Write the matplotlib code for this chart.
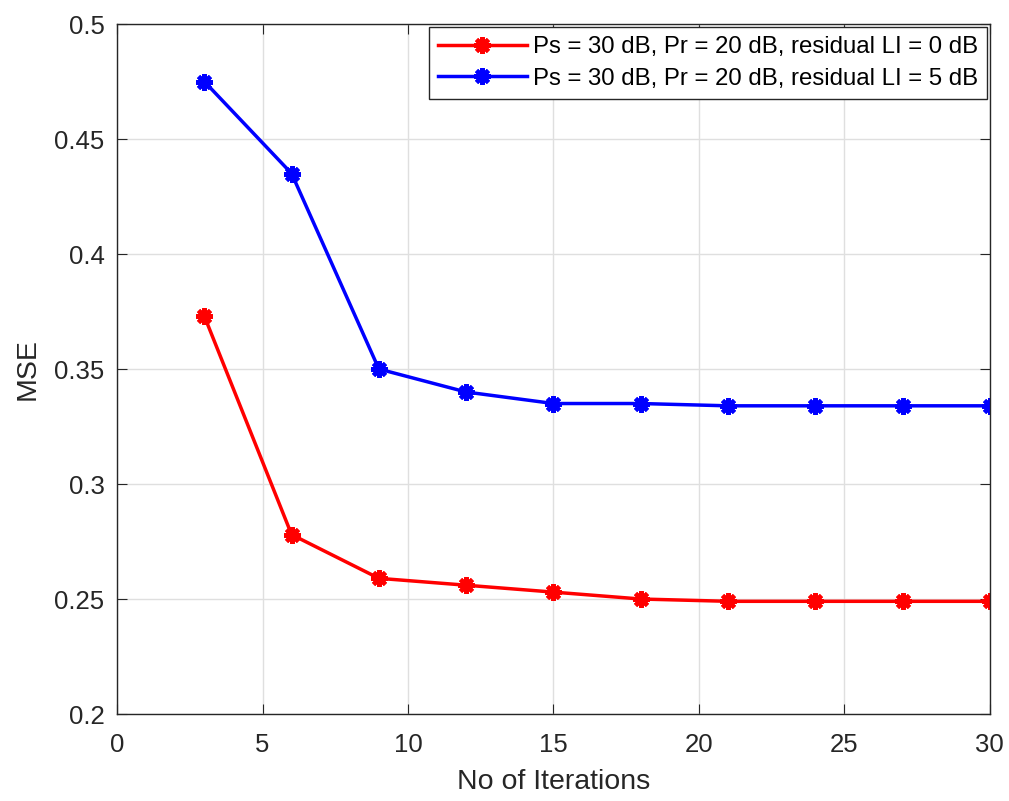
import matplotlib
matplotlib.use("Agg")
import matplotlib.pyplot as plt

plt.rcParams["font.family"] = ["Liberation Sans", "DejaVu Sans"]

iterations = [3, 6, 9, 12, 15, 18, 21, 24, 27, 30]
mse_li0 = [0.373, 0.278, 0.259, 0.256, 0.253, 0.250, 0.249, 0.249, 0.249, 0.249]
mse_li5 = [0.475, 0.435, 0.350, 0.340, 0.335, 0.335, 0.334, 0.334, 0.334, 0.334]
labels = ["Ps = 30 dB, Pr = 20 dB, residual LI = 0 dB",
          "Ps = 30 dB, Pr = 20 dB, residual LI = 5 dB"]

fig = plt.figure(figsize=(10.09, 8.01), dpi=100)
ax = fig.add_axes([0.116, 0.1086, 0.865, 0.8614])

asterisk = (8, 2, 0)
ax.plot(iterations, mse_li0, color="red", linewidth=2.5, marker=asterisk,
        markersize=12, markeredgewidth=3, label=labels[0])
ax.plot(iterations, mse_li5, color="blue", linewidth=2.5, marker=asterisk,
        markersize=12, markeredgewidth=3, label=labels[1])

ax.set_xlim(0, 30)
ax.set_ylim(0.2, 0.5)
ax.set_xticks(range(0, 31, 5))
ax.set_yticks([0.2, 0.25, 0.3, 0.35, 0.4, 0.45, 0.5])
ax.set_yticklabels(["0.2", "0.25", "0.3", "0.35", "0.4", "0.45", "0.5"])
ax.grid(True, color="#dfdfdf", linewidth=1)
ax.set_axisbelow(True)
ax.tick_params(direction="in", labelsize=18.5, colors="#262626", length=7, top=True, right=True)
ax.tick_params(axis="x", pad=13.5)
ax.tick_params(axis="y", pad=9)
for s in ax.spines.values():
    s.set_color("#262626")
    s.set_linewidth(1)

ax.set_xlabel("No of Iterations", fontsize=20.5, color="#262626", labelpad=9)
ax.set_ylabel("MSE", fontsize=20.5, color="#262626", labelpad=10)

leg = ax.legend(loc="upper right", fontsize=17.3, fancybox=False, framealpha=1,
                edgecolor="#262626", handlelength=3.7, borderaxespad=0.12,
                borderpad=0.38, labelspacing=0.4, handletextpad=0.25)
leg.get_frame().set_linewidth(1)

fig.savefig("out.png", dpi=100)
